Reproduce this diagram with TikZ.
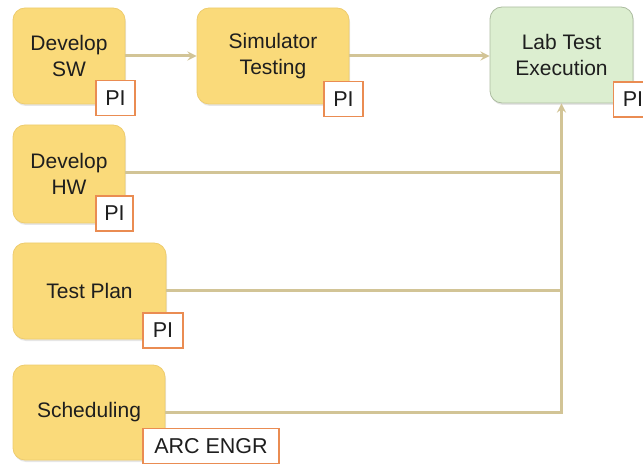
\documentclass[tikz,border=0pt]{standalone}
\usepackage{fontspec}
\setmainfont{Liberation Sans}
\usetikzlibrary{shadows}
\definecolor{taskfill}{RGB}{250,218,122}
\definecolor{taskline}{RGB}{238,204,110}
\definecolor{labfill}{RGB}{220,238,208}
\definecolor{labline}{RGB}{172,188,160}
\definecolor{tagline}{RGB}{234,140,82}
\definecolor{linkcol}{RGB}{210,196,150}
\definecolor{txt}{RGB}{30,30,30}
\begin{document}
\begin{tikzpicture}[
    x=1pt, y=-1pt,
    task/.style={rectangle, rounded corners=12pt, draw=taskline, fill=taskfill, line width=0.8pt,
        align=center, text=txt, font=\fontsize{21}{26}\selectfont,
        drop shadow={opacity=0.2, shadow xshift=1pt, shadow yshift=-2pt}},
    lab/.style={task, draw=labline, fill=labfill},
    tag/.style={rectangle, draw=tagline, fill=white, line width=1.6pt, text=txt,
        font=\fontsize{21.5}{24}\selectfont, minimum height=35pt, inner xsep=3pt},
    link/.style={draw=linkcol, line width=3pt},
    arrow/.style={link, -stealth}
]
    \useasboundingbox (0,0) rectangle (643,465);

    % Aufgaben
    \node[task, minimum width=112pt, minimum height=96pt] (devsw) at (69,56) {Develop\\SW};
    \node[task, minimum width=152pt, minimum height=96pt] (sim) at (273,56) {Simulator\\Testing};
    \node[lab, minimum width=143pt, minimum height=96pt] (lab) at (561.5,55) {Lab Test\\Execution};
    \node[task, minimum width=112pt, minimum height=98pt] (devhw) at (69,174) {Develop\\HW};
    \node[task, minimum width=153pt, minimum height=96pt] (plan) at (89.5,291) {Test Plan};
    \node[task, minimum width=152pt, minimum height=95pt] (sched) at (89,412.5) {Scheduling};

    % Verbindungen
    \draw[arrow] (devsw) -- (sim);
    \draw[arrow] (sim) -- (sim -| lab.west);
    \draw[link] (devhw.east |- 0,173) -- (561.5,173);
    \draw[link] (plan.east) -- (plan.east -| lab.south);
    \draw[arrow] (sched.east) -| (lab.south);

    % Verantwortliche
    \node[tag, minimum width=39pt] (tsw) at (115.5,98) {PI};
    \node[tag, minimum width=39pt] (tsim) at (343.5,99) {PI};
    \node[tag, minimum width=39pt] (tlab) at (633,99.5) {PI};
    \node[tag, minimum width=37pt] (thw) at (114.5,213.5) {PI};
    \node[tag, minimum width=40pt] (tplan) at (163,330.5) {PI};
    \node[tag, minimum width=136pt] (tsched) at (211,446) {ARC ENGR};
\end{tikzpicture}
\end{document}
